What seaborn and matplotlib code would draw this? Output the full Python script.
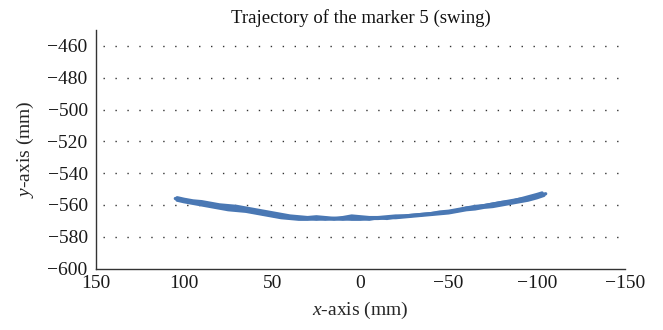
import matplotlib
matplotlib.use("Agg")
import matplotlib.pyplot as plt
import seaborn as sns
import pandas as pd

# Trajectory passes (x in mm, y in mm)
pass1_x = [105, 100, 95, 90, 85, 80, 75, 70, 65, 60, 55, 50, 45, 40, 35, 30, 25, 20, 15, 10, 5, 0,
           -5, -10, -15, -20, -25, -30, -35, -40, -45, -50, -55, -60, -65, -70, -75, -80, -85, -90, -95, -100, -104]
pass1_y = [-556, -557, -558, -559.5, -560.5, -561.5, -562, -562.5, -563.5, -564.5, -565.5, -566.5, -567.5, -568, -568.5, -568.5, -569, -568.5, -569, -568.5, -569, -569,
           -568.5, -568.5, -568, -568, -567.5, -567, -566.5, -566, -565.5, -565, -564, -563, -562.5, -561.5, -561, -560, -559, -558, -557, -555.5, -554]
pass2_x = [-103, -100, -95, -90, -85, -80, -75, -70, -65, -60, -55, -50, -45, -40, -35, -30, -25, -20, -15, -10, -5, 0,
           5, 10, 15, 20, 25, 30, 35, 40, 45, 50, 55, 60, 65, 70, 75, 80, 85, 90, 95, 100, 104]
pass2_y = [-552.5, -553.5, -555, -556.5, -557.5, -558.5, -559.5, -560.5, -561, -562, -563.5, -564.5, -565, -565.5, -566, -566.5, -567, -567, -567.5, -568, -568, -567.5,
           -567, -568, -568.5, -568, -567.5, -568, -567.5, -567, -566, -565, -564, -563, -562, -561, -560.5, -560, -559, -558, -557.5, -556.5, -555.5]
pass3_x = [104, 100, 95, 90, 85, 80, 75, 70, 65, 60, 55, 50, 45, 40, 35, 30, 25, 20, 15, 10, 5, 0,
           -5, -10, -15, -20, -25, -30, -35, -40, -45, -50, -55, -60, -65, -70, -75, -80, -85, -90, -95, -100, -105]
pass3_y = [-557, -558, -559, -560, -561, -562, -563, -563.5, -564, -565, -566, -567, -568, -568.5, -569, -569, -568.5, -569, -568.5, -569, -568.5, -568.5,
           -569, -568, -568.5, -567.5, -567, -566.5, -566, -565.5, -564.5, -564, -563, -562, -561.5, -560.5, -559.5, -558.5, -558, -556.5, -556, -554.5, -553]

x_ticks = [150, 100, 50, 0, -50, -100, -150]
y_ticks = [-460, -480, -500, -520, -540, -560, -580, -600]

df = pd.concat([
    pd.DataFrame({"x": pass1_x, "y": pass1_y, "pass": 1}),
    pd.DataFrame({"x": pass2_x, "y": pass2_y, "pass": 2}),
    pd.DataFrame({"x": pass3_x, "y": pass3_y, "pass": 3}),
], ignore_index=True)

sns.set_theme(style="white")
plt.rcParams["font.family"] = ["Liberation Serif", "DejaVu Serif"]
plt.rcParams["mathtext.fontset"] = "custom"
plt.rcParams["mathtext.it"] = "Liberation Serif:italic"
plt.rcParams["mathtext.rm"] = "Liberation Serif"

fig = plt.figure(figsize=(6.63, 3.30), dpi=100)
ax = fig.add_axes([96 / 663, (330 - 268.5) / 330, (625 - 96) / 663, (268.5 - 30) / 330])

for val in y_ticks[:-1]:
    ax.plot([146, -150], [val, val], color="#333333", linestyle=(0, (1, 7.6)),
            linewidth=1.0, zorder=0)

for p in [1, 2, 3]:
    sub = df[df["pass"] == p]
    sns.lineplot(data=sub, x="x", y="y", sort=False, ax=ax, color="#4a78b4",
                 linewidth=2.4, estimator=None, legend=False)

ax.set_xlim(150, -150)
ax.set_ylim(-600, -450)
ax.set_xticks(x_ticks)
ax.set_yticks(y_ticks)
ax.set_xticklabels([f"{t}".replace("-", "\u2212") for t in x_ticks])
ax.set_yticklabels([f"{t}".replace("-", "\u2212") for t in y_ticks])
ax.tick_params(axis="both", length=0, labelsize=14, colors="#1a1a1a")
ax.tick_params(axis="x", pad=5)
ax.tick_params(axis="y", pad=6)
ax.grid(False)
for s in ["top", "right"]:
    ax.spines[s].set_visible(False)
for s in ["left", "bottom"]:
    ax.spines[s].set_color("#333333")
    ax.spines[s].set_linewidth(1.0)

ax.set_xlabel("$x$-axis (mm)", fontsize=14, labelpad=5)
ax.set_ylabel("$y$-axis (mm)", fontsize=14, labelpad=8)
ax.set_title("Trajectory of the marker 5 (swing)", fontsize=13.5, pad=5, color="#111111")

fig.savefig("out.png", dpi=100)
